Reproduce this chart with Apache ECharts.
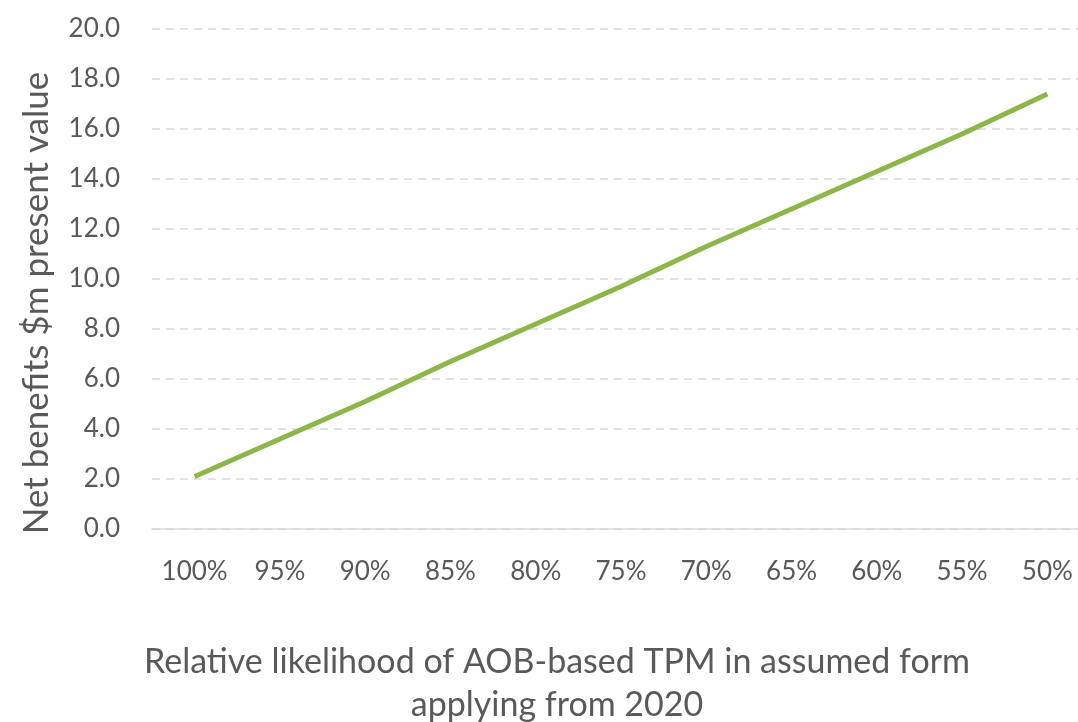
<!DOCTYPE html>
<html>
<head>
<meta charset="utf-8">
<script src="https://cdn.jsdelivr.net/npm/echarts@6/dist/echarts.min.js"></script>
<style>
  html, body { margin: 0; padding: 0; background: #fff; }
  #chart { width: 1078px; height: 722px; }
</style>
</head>
<body>
<div id="chart"></div>
<script>
// likelihood categories along the x axis
const likelihood = ['100%', '95%', '90%', '85%', '80%', '75%', '70%', '65%', '60%', '55%', '50%']
// net benefits, $m present value
const netBenefits = [2.1, 3.6, 5.1, 6.7, 8.2, 9.7, 11.3, 12.8, 14.3, 15.8, 17.4]

const textColor = '#595959'
const font = 'Lato, "Open Sans", sans-serif'

const chart = echarts.init(document.getElementById('chart'))
chart.setOption({
  animation: false,
  grid: { left: 152, right: -12, top: 29, bottom: 193, outerBoundsMode: 'none', containLabel: false },
  xAxis: {
    type: 'category',
    data: likelihood,
    boundaryGap: true,
    axisLine: { lineStyle: { color: '#d9d9d9', width: 1.5 } },
    axisTick: { show: false },
    axisLabel: { color: textColor, fontSize: 26, fontFamily: font, margin: 30, interval: 0 },
    name: 'Relative likelihood of AOB-based TPM in assumed form\napplying from 2020',
    nameLocation: 'middle',
    nameGap: 112,
    nameTextStyle: {
      color: textColor, fontSize: 34, fontFamily: font, lineHeight: 43,
      padding: [0, 128, 0, 0]
    }
  },
  yAxis: {
    type: 'value',
    min: 0,
    max: 20,
    interval: 2,
    axisLine: { show: false },
    axisTick: { show: false },
    axisLabel: {
      color: textColor, fontSize: 26, fontFamily: font, margin: 32,
      formatter: v => v.toFixed(1)
    },
    splitLine: { lineStyle: { color: '#d9d9d9', type: [8, 6], width: 1.5 } },
    name: 'Net benefits $m present value',
    nameLocation: 'middle',
    nameGap: 98,
    nameTextStyle: {
      color: textColor, fontSize: 35, fontFamily: font,
      padding: [0, 48, 0, 0]
    }
  },
  series: [{
    type: 'line',
    data: netBenefits,
    showSymbol: false,
    lineStyle: { color: '#8db64a', width: 5 },
    z: 3
  }]
})
</script>
</body>
</html>
